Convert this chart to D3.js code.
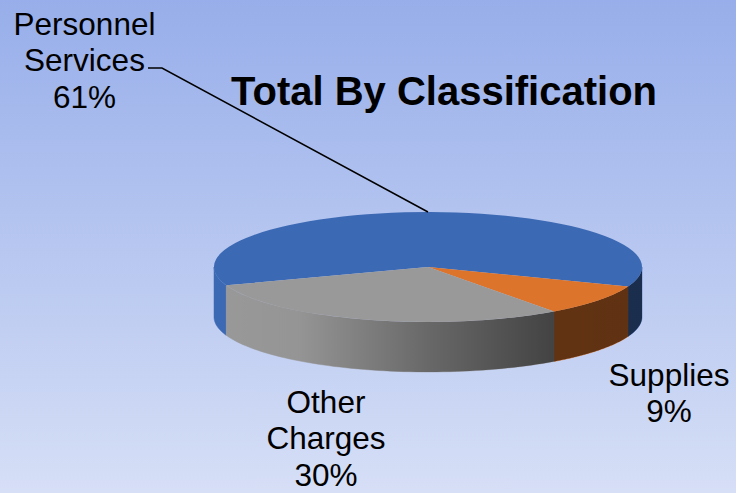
<!DOCTYPE html>
<html>
<head>
<meta charset="utf-8">
<script src="https://cdn.jsdelivr.net/npm/d3@7"></script>
<style>
  html, body { margin: 0; padding: 0; overflow: hidden; }
  svg { display: block; }
  text { font-family: "Liberation Sans", Arial, sans-serif; fill: #000; }
</style>
</head>
<body>
<svg id="chart" width="736" height="493"></svg>
<script>
// values, labels show them rounded
const categories = ['Personnel Services', 'Supplies', 'Other Charges'];
const percents = [61.2, 9.2, 29.6];
const nameLines = [['Personnel', 'Services'], ['Supplies'], ['Other', 'Charges']];
const title = 'Total By Classification';

const width = 736, height = 493;
const colours = d3.scaleOrdinal().domain(categories).range(['#3c69b3', '#dd742b', '#999999']);

// pie geometry
const cx = 428, cy = 267, rx = 214, ry = 55, depth = 50;
const firstSliceAngle = 250.5 * Math.PI / 180;

const svg = d3.select('#chart');
const defs = svg.append('defs');

// page background
const bg = defs.append('linearGradient').attr('id', 'bg')
  .attr('x1', 0).attr('y1', 0).attr('x2', 0).attr('y2', 1);
bg.append('stop').attr('offset', '0').attr('stop-color', '#97aeea');
bg.append('stop').attr('offset', '1').attr('stop-color', '#d6dff6');
svg.append('rect').attr('width', width).attr('height', height).attr('fill', 'url(#bg)');

// side wall shading, gets darker to the right
const shade = defs.append('linearGradient').attr('id', 'shade')
  .attr('gradientUnits', 'userSpaceOnUse')
  .attr('x1', cx - rx).attr('y1', 0).attr('x2', cx + rx).attr('y2', 0);
[[0, 0], [0.2, 0.03], [0.5, 0.32], [0.79, 0.56], [1, 0.57]].forEach(([o, a]) => {
  shade.append('stop').attr('offset', o).attr('stop-color', '#000').attr('stop-opacity', a);
});

const pie = d3.pie().sort(null).startAngle(firstSliceAngle).endAngle(firstSliceAngle + 2 * Math.PI);
const slices = pie(percents).map((d, i) => ({ ...d, name: categories[i] }));

// pie angle is clockwise from 12 o'clock
const rimX = a => cx + rx * Math.sin(a);
const rimY = a => cy - ry * Math.cos(a);

// only the front half of the rim shows a wall
const frontRanges = [[Math.PI / 2, 3 * Math.PI / 2], [5 * Math.PI / 2, 7 * Math.PI / 2]];
const wallLine = d3.line();
const wallPath = (a0, a1) => {
  const n = 60;
  const top = d3.range(n + 1).map(i => a0 + (a1 - a0) * i / n).map(a => [rimX(a), rimY(a)]);
  const bottom = top.map(p => [p[0], p[1] + depth]).reverse();
  return wallLine(top.concat(bottom)) + 'Z';
};

const walls = [];
slices.forEach(d => {
  frontRanges.forEach(([lo, hi]) => {
    const a0 = Math.max(d.startAngle, lo), a1 = Math.min(d.endAngle, hi);
    if (a1 > a0) walls.push({ name: d.name, path: wallPath(a0, a1) });
  });
});

const wallG = svg.append('g').attr('class', 'walls');
wallG.selectAll('path.wall').data(walls).join('path')
  .attr('class', 'wall')
  .attr('d', d => d.path)
  .attr('fill', d => colours(d.name))
  .attr('stroke', d => colours(d.name))
  .attr('stroke-width', 0.5);
wallG.selectAll('path.wall-shade').data(walls).join('path')
  .attr('class', 'wall-shade')
  .attr('d', d => d.path)
  .attr('fill', 'url(#shade)');

// top face, a circle squashed into an ellipse
const arc = d3.arc().innerRadius(0).outerRadius(rx);
svg.append('g')
  .attr('transform', `translate(${cx},${cy}) scale(1,${ry / rx})`)
  .selectAll('path').data(slices).join('path')
  .attr('d', arc)
  .attr('fill', d => colours(d.name));

// title
svg.append('text')
  .attr('x', 444).attr('y', 105)
  .attr('text-anchor', 'middle')
  .attr('font-size', 40)
  .attr('font-weight', 'bold')
  .text(title);

// leader line for first slice
const leader = d3.line();
svg.append('path')
  .attr('d', leader([[148, 68], [162, 68], [rimX(2 * Math.PI), rimY(2 * Math.PI)]]))
  .attr('fill', 'none')
  .attr('stroke', '#000')
  .attr('stroke-width', 1.5);

// data labels
const labelPos = [
  { x: 84.5, y: 35 },
  { x: 669, y: 386 },
  { x: 326, y: 413 }
];
const lineGap = 36.4;
const labelLines = nameLines.map((n, i) => n.concat(`${Math.round(percents[i])}%`));
svg.append('g').selectAll('text').data(labelLines).join('text')
  .attr('font-size', 31.5)
  .attr('text-anchor', 'middle')
  .each(function (lines, i) {
    d3.select(this).selectAll('tspan').data(lines).join('tspan')
      .attr('x', labelPos[i].x)
      .attr('y', (_, j) => labelPos[i].y + j * lineGap)
      .text(l => l);
  });
</script>
</body>
</html>
